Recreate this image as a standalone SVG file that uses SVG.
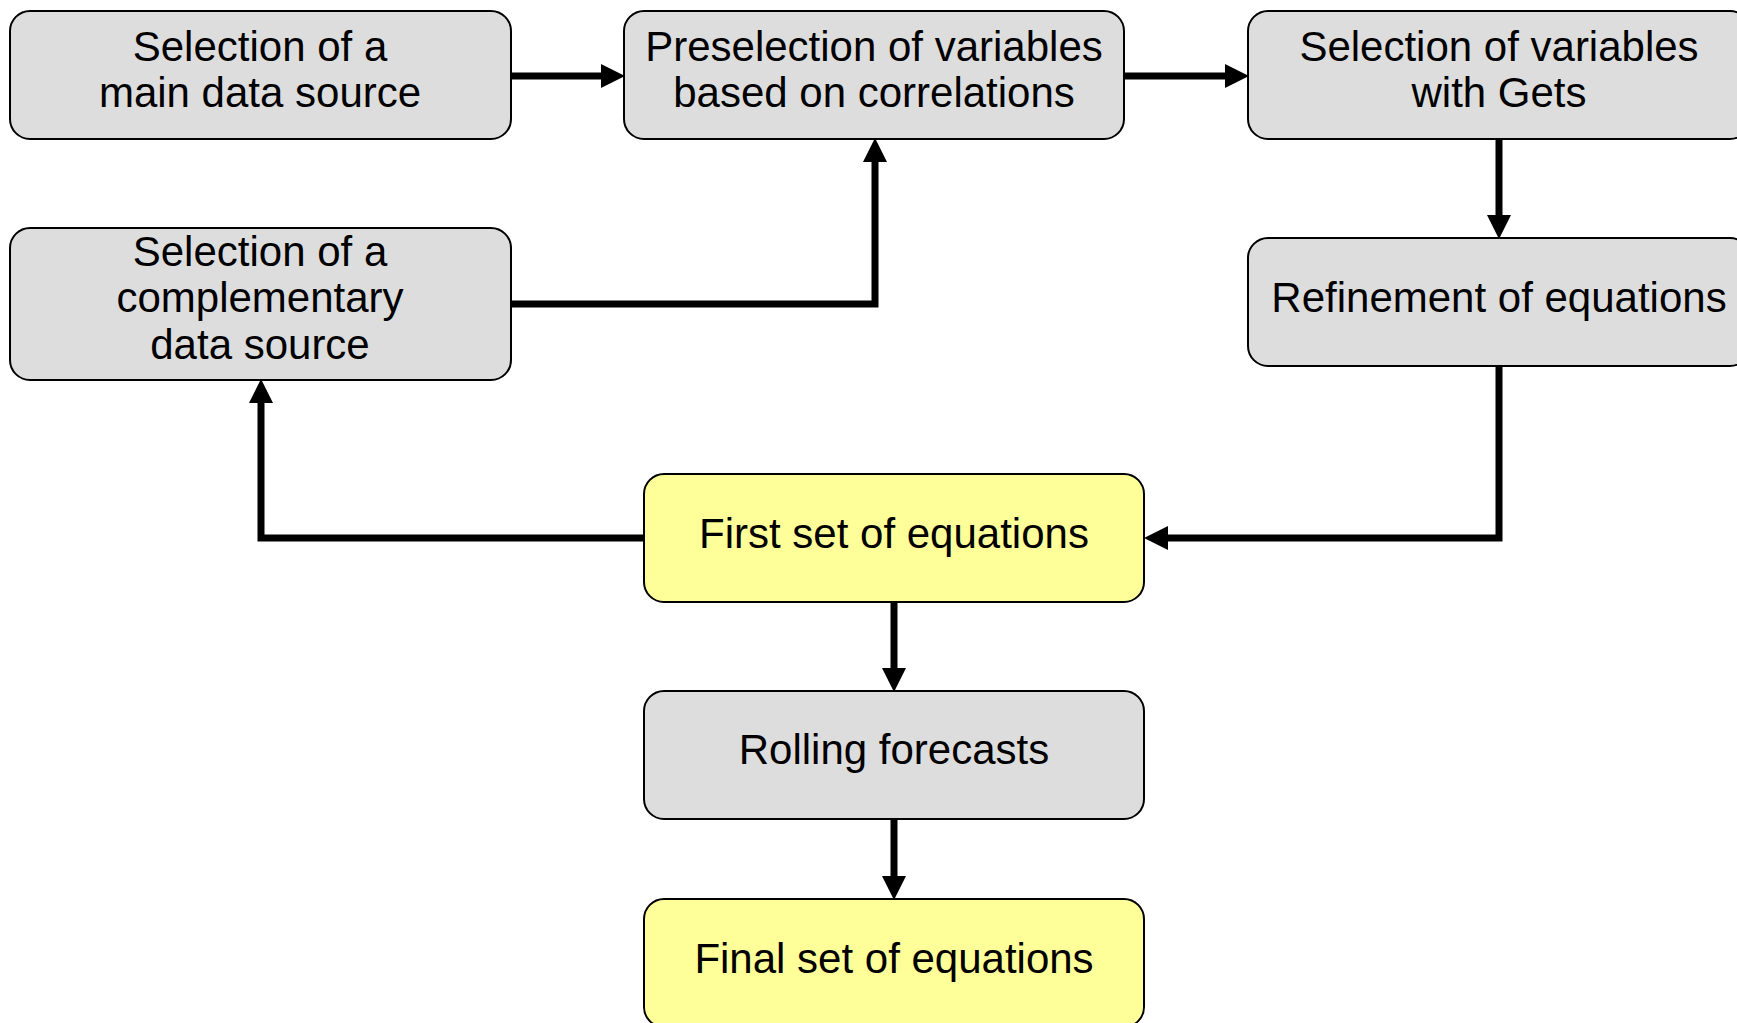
<svg xmlns="http://www.w3.org/2000/svg" width="1737" height="1023" viewBox="0 0 1737 1023">
<style>
.box{stroke:#000;stroke-width:2}
.g{fill:#dddddd}
.y{fill:#ffff99}
text{font-family:"Liberation Sans",Arial,sans-serif;font-size:42px;fill:#000;text-anchor:middle}
.c{fill:none;stroke:#000;stroke-width:7}
</style>
<defs>
<marker id="ah" markerUnits="userSpaceOnUse" markerWidth="24" markerHeight="24" refX="0" refY="12" orient="auto" viewBox="0 0 24 24">
<path d="M0,0 L24,12 L0,24 Z" fill="#000"/>
</marker>
</defs>
<rect width="1737" height="1023" fill="#fff"/>
<g id="connectors">
<path class="c" d="M511,76 H601" marker-end="url(#ah)"/>
<path class="c" d="M1124,76 H1225" marker-end="url(#ah)"/>
<path class="c" d="M1499,139 V215" marker-end="url(#ah)"/>
<path class="c" d="M1499,366 V538 H1168" marker-end="url(#ah)"/>
<path class="c" d="M644,538 H261 V403" marker-end="url(#ah)"/>
<path class="c" d="M511,304 H875 V162" marker-end="url(#ah)"/>
<path class="c" d="M894,602 V668" marker-end="url(#ah)"/>
<path class="c" d="M894,820 V876" marker-end="url(#ah)"/>
</g>
<g id="n1">
<rect class="box g" x="10" y="11" width="501" height="128" rx="20"/>
<text x="260" y="61">Selection of a</text>
<text x="260" y="107">main data source</text>
</g>
<g id="n2">
<rect class="box g" x="624" y="11" width="500" height="128" rx="20"/>
<text x="874" y="61">Preselection of variables</text>
<text x="874" y="107">based on correlations</text>
</g>
<g id="n3">
<rect class="box g" x="1248" y="11" width="502" height="128" rx="20"/>
<text x="1499" y="61">Selection of variables</text>
<text x="1499" y="107">with Gets</text>
</g>
<g id="n4">
<rect class="box g" x="1248" y="238" width="502" height="128" rx="20"/>
<text x="1499" y="312">Refinement of equations</text>
</g>
<g id="n5">
<rect class="box g" x="10" y="228" width="501" height="152" rx="20"/>
<text x="260" y="266">Selection of a</text>
<text x="260" y="312">complementary</text>
<text x="260" y="359">data source</text>
</g>
<g id="n6">
<rect class="box y" x="644" y="474" width="500" height="128" rx="20"/>
<text x="894" y="548">First set of equations</text>
</g>
<g id="n7">
<rect class="box g" x="644" y="691" width="500" height="128" rx="20"/>
<text x="894" y="764">Rolling forecasts</text>
</g>
<g id="n8">
<rect class="box y" x="644" y="899" width="500" height="128" rx="20"/>
<text x="894" y="973">Final set of equations</text>
</g>
</svg>
